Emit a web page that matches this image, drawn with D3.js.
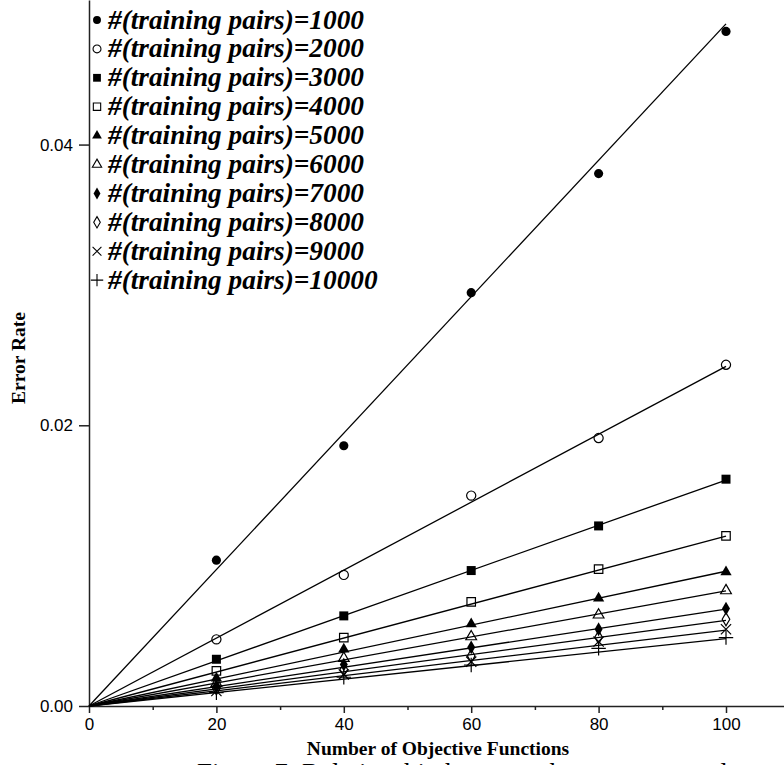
<!DOCTYPE html>
<html>
<head>
<meta charset="utf-8">
<script src="https://cdn.jsdelivr.net/npm/d3@7"></script>
<style>
  body { margin: 0; background: #fff; }
  svg { display: block; }
  .tick text { font-family: "Liberation Sans", Arial, sans-serif; font-size: 17px; fill: #000; }
  .domain, .tick line { stroke: #222; stroke-width: 1.5px; }
</style>
</head>
<body>
<div id="chart"></div>
<script>
// x positions (number of objective functions)
var xValues = [20, 40, 60, 80, 100];

// series labels
var pairCounts = [1000, 2000, 3000, 4000, 5000, 6000, 7000, 8000, 9000, 10000];

// error rates
var err1000  = [0.01039, 0.01854, 0.02945, 0.03793, 0.04806];
var err2000  = [0.00475, 0.00934, 0.01499, 0.01909, 0.02431];
var err3000  = [0.00333, 0.00642, 0.00965, 0.01283, 0.01616];
var err4000  = [0.00250, 0.00487, 0.00742, 0.00975, 0.01212];
var err5000  = [0.00197, 0.00404, 0.00585, 0.00768, 0.00955];
var err6000  = [0.00162, 0.00340, 0.00494, 0.00649, 0.00822];
var err7000  = [0.00143, 0.00295, 0.00418, 0.00547, 0.00694];
var err8000  = [0.00126, 0.00260, 0.00357, 0.00490, 0.00618];
var err9000  = [0.00107, 0.00225, 0.00316, 0.00459, 0.00547];
var err10000 = [0.00095, 0.00205, 0.00292, 0.00411, 0.00487];

// fitted line value at x = 100 (lines start at the origin)
var fitAt100 = [0.0486, 0.0242, 0.0161, 0.0121, 0.0096, 0.0082, 0.0069, 0.0061, 0.0054, 0.0048];

var xTicks = [0, 20, 40, 60, 80, 100];
var xMinorTicks = [10, 30, 50, 70, 90, 110];
var yTicks = [0, 0.02, 0.04];

var allSeries = [err1000, err2000, err3000, err4000, err5000, err6000, err7000, err8000, err9000, err10000];

var symbols = [
  {type: d3.symbolCircle,   size: 66, filled: true},
  {type: d3.symbolCircle,   size: 66, filled: false},
  {type: d3.symbolSquare,   size: 81, filled: true},
  {type: d3.symbolSquare,   size: 72, filled: false},
  {type: d3.symbolTriangle, size: 55, filled: true},
  {type: d3.symbolTriangle, size: 50, filled: false},
  {type: d3.symbolDiamond,  size: 55, filled: true},
  {type: d3.symbolDiamond,  size: 50, filled: false},
  {type: d3.symbolTimes,    size: 70, filled: false},
  {type: d3.symbolPlus,     size: 70, filled: false}
];

var width = 784, height = 765;

var svg = d3.select("#chart").append("svg")
  .attr("width", width)
  .attr("height", height);

var x = d3.scaleLinear().domain([0, 110]).range([89, 789.7]);
var y = d3.scaleLinear().domain([0, 0.0503]).range([706, 0]);

// x axis
svg.append("g")
  .attr("transform", "translate(0,706)")
  .call(d3.axisBottom(x).tickValues(xTicks).tickSize(7).tickSizeOuter(0).tickPadding(5)
    .tickFormat(d3.format("d")));

svg.append("g")
  .attr("transform", "translate(0,706)")
  .call(d3.axisBottom(x).tickValues(xMinorTicks).tickSize(4).tickSizeOuter(0).tickFormat(""))
  .select(".domain").remove();

// y axis
svg.append("g")
  .attr("transform", "translate(89,0)")
  .call(d3.axisLeft(y).tickValues(yTicks).tickSize(10).tickSizeOuter(0).tickPadding(6)
    .tickFormat(d3.format(".2f")));

// axis titles
svg.append("text")
  .attr("x", 438)
  .attr("y", 755)
  .attr("text-anchor", "middle")
  .style("font-family", "'Liberation Serif', 'Times New Roman', serif")
  .style("font-weight", "bold")
  .style("font-size", "19.5px")
  .text("Number of Objective Functions");

svg.append("text")
  .attr("transform", "translate(25,358) rotate(-90)")
  .attr("text-anchor", "middle")
  .style("font-family", "'Liberation Serif', 'Times New Roman', serif")
  .style("font-weight", "bold")
  .style("font-size", "19.5px")
  .text("Error Rate");

// caption, cut off by the bottom edge
svg.append("text")
  .attr("x", 197)
  .attr("y", 782)
  .style("font-family", "'Liberation Serif', 'Times New Roman', serif")
  .style("font-size", "27px")
  .text("Figure 7: Relationship between the error rate and");

// fitted lines
svg.selectAll(".fit")
  .data(fitAt100)
  .enter().append("line")
  .attr("class", "fit")
  .attr("x1", x(0))
  .attr("y1", y(0))
  .attr("x2", x(100))
  .attr("y2", function(d) { return y(d); })
  .style("stroke", "#000")
  .style("stroke-width", 1.3);

// markers
allSeries.forEach(function(vals, i) {
  var sym = symbols[i];
  var path = d3.symbol().type(sym.type).size(sym.size);
  svg.append("g").selectAll("path")
    .data(vals)
    .enter().append("path")
    .attr("d", path)
    .attr("transform", function(d, j) { return "translate(" + x(xValues[j]) + "," + y(d) + ")"; })
    .style("fill", sym.filled ? "#000" : "none")
    .style("stroke", "#000")
    .style("stroke-width", sym.filled ? 0 : 1.2);
});

// legend
var legend = svg.append("g");
pairCounts.forEach(function(n, i) {
  var sym = symbols[i];
  var cy = 20 + i * 28.9;
  legend.append("path")
    .attr("d", d3.symbol().type(sym.type).size(sym.size * 0.75))
    .attr("transform", "translate(97," + cy + ")")
    .style("fill", sym.filled ? "#000" : "none")
    .style("stroke", "#000")
    .style("stroke-width", sym.filled ? 0 : 1.1);
  legend.append("text")
    .attr("x", 108)
    .attr("y", cy + 8.5)
    .style("font-family", "'Liberation Serif', 'Times New Roman', serif")
    .style("font-weight", "bold")
    .style("font-style", "italic")
    .style("font-size", "27.3px")
    .text("#(training pairs)=" + n);
});
</script>
</body>
</html>
